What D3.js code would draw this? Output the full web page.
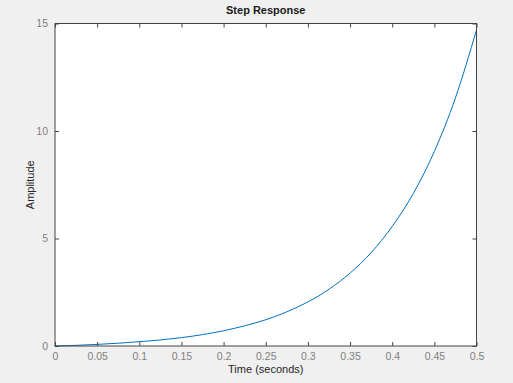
<!DOCTYPE html>
<html>
<head>
    <meta charset="utf-8">
    <title>Step Response</title>
    <script src="https://d3js.org/d3.v7.min.js"></script>
    <style>
        body { margin: 0; background: #f0f0f0; }
        text { font-family: "Liberation Sans", Arial, sans-serif; }
    </style>
</head>
<body>
    <script>
        // values
        var times = [0, 0.025, 0.05, 0.075, 0.1, 0.125, 0.15, 0.175, 0.2, 0.225, 0.25,
                     0.275, 0.3, 0.325, 0.35, 0.375, 0.4, 0.425, 0.45, 0.475, 0.5];
        var amplitude = [0, 0.03, 0.075, 0.13, 0.2, 0.28, 0.39, 0.53, 0.71, 0.94, 1.22,
                         1.59, 2.05, 2.64, 3.39, 4.34, 5.56, 7.09, 9.05, 11.54, 14.7];
        var xTicks = [0, 0.05, 0.1, 0.15, 0.2, 0.25, 0.3, 0.35, 0.4, 0.45, 0.5];
        var yTicks = [0, 5, 10, 15];

        var width = 513;
        var height = 383;
        var plotL = 55, plotR = 476.5, plotT = 23.5, plotB = 346;

        var svg = d3.select("body").append("svg")
            .attr("width", width)
            .attr("height", height);

        var x = d3.scaleLinear().domain([0, 0.5]).range([plotL, plotR]);
        var y = d3.scaleLinear().domain([0, 15]).range([plotB, plotT]);

        svg.append("rect")
            .attr("x", plotL).attr("y", plotT)
            .attr("width", plotR - plotL).attr("height", plotB - plotT)
            .attr("fill", "white");

        var line = d3.line()
            .x(function(d, i) { return x(times[i]); })
            .y(function(d) { return y(d); })
            .curve(d3.curveMonotoneX);

        svg.append("path")
            .datum(amplitude)
            .attr("d", line)
            .attr("fill", "none")
            .attr("stroke", "#0072bd")
            .attr("stroke-width", 1);

        function styleAxis(g, labels) {
            g.select(".domain").remove();
            g.selectAll(".tick line").attr("stroke", "#444");
            g.selectAll(".tick text")
                .attr("fill", labels ? "#808080" : "none")
                .style("font-size", "10.5px");
        }

        var fmt = function(d) { return String(d); };

        svg.append("g")
            .attr("transform", "translate(0," + plotB + ")")
            .call(d3.axisBottom(x).tickValues(xTicks).tickFormat(fmt).tickSizeInner(-4).tickPadding(7))
            .call(styleAxis, true);
        svg.append("g")
            .attr("transform", "translate(0," + plotT + ")")
            .call(d3.axisTop(x).tickValues(xTicks).tickFormat("").tickSizeInner(-4))
            .call(styleAxis, false);
        svg.append("g")
            .attr("transform", "translate(" + plotL + ",0)")
            .call(d3.axisLeft(y).tickValues(yTicks).tickFormat(fmt).tickSizeInner(-4).tickPadding(7))
            .call(styleAxis, true);
        svg.append("g")
            .attr("transform", "translate(" + plotR + ",0)")
            .call(d3.axisRight(y).tickValues(yTicks).tickFormat("").tickSizeInner(-4))
            .call(styleAxis, false);

        svg.append("rect")
            .attr("x", plotL).attr("y", plotT)
            .attr("width", plotR - plotL).attr("height", plotB - plotT)
            .attr("fill", "none")
            .attr("stroke", "#444")
            .attr("stroke-width", 1);

        svg.append("text")
            .attr("x", (plotL + plotR) / 2).attr("y", 14)
            .attr("text-anchor", "middle")
            .style("font-size", "11px")
            .style("font-weight", "bold")
            .attr("fill", "#1a1a1a")
            .text("Step Response");

        svg.append("text")
            .attr("x", (plotL + plotR) / 2).attr("y", 373)
            .attr("text-anchor", "middle")
            .style("font-size", "11px")
            .attr("fill", "#262626")
            .text("Time (seconds)");

        svg.append("text")
            .attr("transform", "translate(34," + ((plotT + plotB) / 2) + ") rotate(-90)")
            .attr("text-anchor", "middle")
            .style("font-size", "11px")
            .attr("fill", "#262626")
            .text("Amplitude");
    </script>
</body>
</html>
